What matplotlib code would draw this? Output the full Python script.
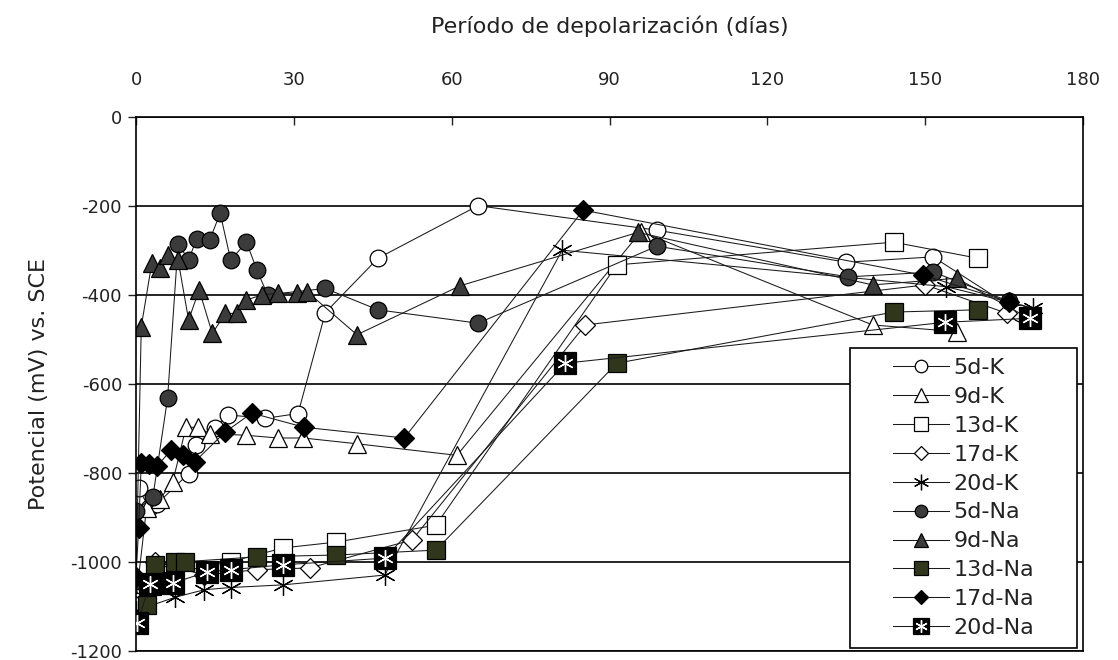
import numpy as np
import matplotlib
matplotlib.use("Agg")
import matplotlib.pyplot as plt
from matplotlib.patches import Rectangle

plt.rcParams['font.family'] = ['DejaVu Sans']
plt.rcParams['axes.unicode_minus'] = False

# depolarization period (days) and potential (mV vs. SCE) per specimen
days_5dK = [0.5, 2.5, 4, 10, 11.4, 15, 17.5, 24.5, 30.8, 36, 46, 65, 99, 135, 151.5, 168]
mv_5dK = [-835, -880, -870, -802, -738, -700, -670, -678, -667, -440, -318, -200, -255, -327, -315, -440]

days_9dK = [0, 2, 4.5, 7, 9.5, 11.8, 14, 21, 27, 31.8, 42, 61, 96, 140, 156]
mv_9dK = [-1085, -880, -860, -820, -698, -698, -712, -716, -722, -722, -735, -761, -258, -468, -483]

days_13dK = [0, 5, 18, 28, 38, 57, 91.4, 144, 160]
mv_13dK = [-1090, -1030, -1000, -969, -956, -918, -333, -282, -318]

days_17dK = [0, 3.6, 13, 23, 33, 52.5, 85.4, 150, 165.6]
mv_17dK = [-1100, -1000, -1030, -1018, -1014, -951, -468, -378, -442]

days_20dK = [0, 7.4, 13, 18, 28, 47.3, 81, 154, 170.5]
mv_20dK = [-1110, -1080, -1063, -1058, -1052, -1030, -300, -382, -430]

days_5dNa = [0, 3.2, 6, 8, 10, 11.5, 14, 16, 18, 21, 23, 25, 36, 46, 65, 99, 135.4, 151.5, 166]
mv_5dNa = [-885, -855, -633, -285, -322, -275, -277, -217, -322, -282, -345, -400, -386, -434, -464, -291, -360, -349, -415]

days_9dNa = [0, 1, 3, 4.5, 6, 8, 10, 12, 14.5, 17, 19.2, 21, 24, 27, 30.6, 32.5, 42, 61.6, 95.4, 140, 156, 170]
mv_9dNa = [-1040, -472, -329, -340, -311, -322, -457, -389, -487, -442, -442, -412, -400, -397, -397, -393,
           -490, -380, -260, -378, -363, -455]

days_13dNa = [0, 2, 3.6, 7.4, 9.3, 23, 38, 57, 91.4, 144, 160]
mv_13dNa = [-1140, -1098, -1007, -1000, -1000, -989, -985, -974, -554, -439, -434]

days_17dNa = [0, 0.5, 1, 2.5, 4, 6.7, 8.9, 11.2, 16.9, 22, 32, 51, 85, 149.6, 166]
mv_17dNa = [-1035, -925, -778, -780, -785, -749, -760, -775, -709, -666, -698, -722, -210, -356, -416]

days_20dNa = [0.2, 2.7, 7, 13.5, 18, 28, 47.3, 81.6, 153.8, 170]
mv_20dNa = [-1138, -1050, -1048, -1023, -1018, -1007, -992, -554, -462, -453]

x_ticks = [0, 30, 60, 90, 120, 150, 180]
y_ticks = [0, -200, -400, -600, -800, -1000, -1200]
labels = ['5d-K', '9d-K', '13d-K', '17d-K', '20d-K',
          '5d-Na', '9d-Na', '13d-Na', '17d-Na', '20d-Na']

W, H = 1118, 660
fig = plt.figure(figsize=(W / 100, H / 100), dpi=100)
ax = fig.add_axes([136 / W, 1 - 650.7 / H, (1083 - 136) / W, (650.7 - 116.7) / H])

line_kw = dict(color='#1a1a1a', lw=0.75, markeredgecolor='black', markeredgewidth=0.9)
dark = '#3b3b3b'
olive = '#30361c'
star = (6, 2, 0)

handles = []
h, = ax.plot(days_5dK, mv_5dK, marker='o', ms=12, mfc='white', **line_kw)
handles.append(h)
h, = ax.plot(days_9dK, mv_9dK, marker='^', ms=13, mfc='white', **line_kw)
handles.append(h)
h, = ax.plot(days_13dK, mv_13dK, marker='s', ms=13, mfc='white', **line_kw)
handles.append(h)
h, = ax.plot(days_17dK, mv_17dK, marker='D', ms=10, mfc='white', **line_kw)
handles.append(h)
h, = ax.plot(days_20dK, mv_20dK, marker=star, ms=15, **line_kw)
handles.append(h)
h, = ax.plot(days_5dNa, mv_5dNa, marker='o', ms=12, mfc=dark, **line_kw)
handles.append(h)
h, = ax.plot(days_9dNa, mv_9dNa, marker='^', ms=13, mfc=dark, **line_kw)
handles.append(h)
h, = ax.plot(days_13dNa, mv_13dNa, marker='s', ms=13, mfc=olive, **line_kw)
handles.append(h)
h, = ax.plot(days_17dNa, mv_17dNa, marker='D', ms=10, mfc='black', **line_kw)
handles.append(h)
h1, = ax.plot(days_20dNa, mv_20dNa, marker='s', ms=16, mfc='black', zorder=4, **line_kw)
h2, = ax.plot(days_20dNa, mv_20dNa, ls='none', marker=star, ms=12,
              markeredgecolor='white', markeredgewidth=1.0, zorder=5)
handles.append((h1, h2))

ax.set_xlim(0, 180)
ax.set_ylim(-1200, 0)
ax.set_xticks(x_ticks)
ax.set_yticks(y_ticks)
ax.xaxis.tick_top()
ax.xaxis.set_label_position('top')
ax.tick_params(axis='x', direction='in', length=6, width=1, labelsize=13, pad=20, colors='#222222')
ax.tick_params(axis='y', direction='out', length=6, width=1, labelsize=13, pad=4, colors='#222222')
ax.set_xlabel('Período de depolarización (días)', fontsize=16, labelpad=27, color='#222222')
ax.set_ylabel('Potencial (mV) vs. SCE', fontsize=16, labelpad=15, color='#222222')
ax.grid(axis='y', color='black', lw=1.2)
ax.set_axisbelow(True)
for s in ax.spines.values():
    s.set_color('black')
    s.set_linewidth(1.2)

# legend box drawn separately so the entries can sit well inside it
box = Rectangle((850 / W, 1 - 648 / H), 227 / W, 300 / H, transform=fig.transFigure,
                facecolor='white', edgecolor='black', lw=1.2, zorder=10, clip_on=False)
ax.add_patch(box)
leg = ax.legend(handles, labels, loc='upper left', bbox_to_anchor=(893 / W, 1 - 358 / H),
                bbox_transform=fig.transFigure, fontsize=16, frameon=False,
                handlelength=2.5, labelspacing=0.40, borderpad=0, borderaxespad=0,
                handletextpad=0.22, markerscale=0.75)
leg.set_zorder(11)
for t in leg.get_texts():
    t.set_color('#222222')

fig.savefig('out.png', dpi=100)
